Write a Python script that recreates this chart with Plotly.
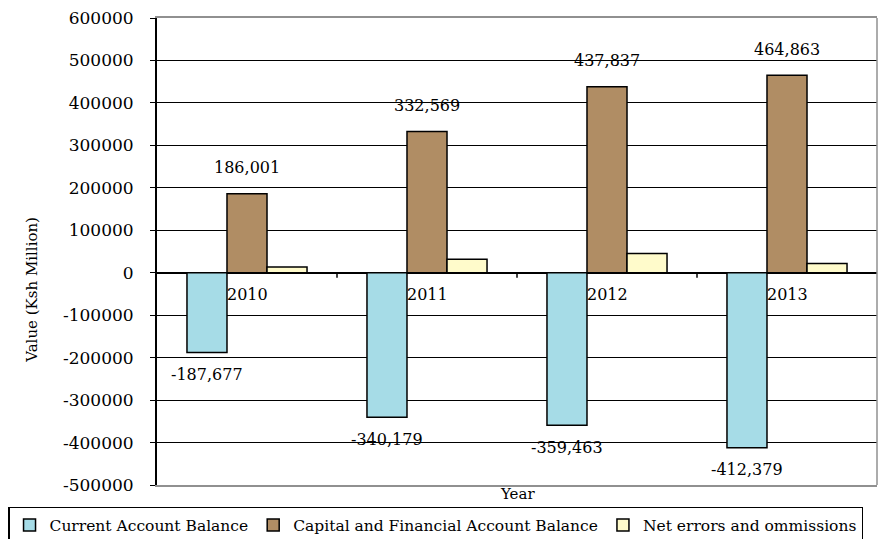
import plotly.graph_objects as go

years = ["2010", "2011", "2012", "2013"]
current_account = [-187677, -340179, -359463, -412379]
capital_financial = [186001, 332569, 437837, 464863]
net_errors = [13400, 32000, 45500, 22000]
series_names = ["Current Account Balance", "Capital and Financial Account Balance", "Net errors and ommissions"]
y_ticks = [600000, 500000, 400000, 300000, 200000, 100000, 0, -100000, -200000, -300000, -400000, -500000]

FONT = "DejaVu Serif"
colors = ["#A6DCE7", "#B08D64", "#FFFBCB"]

fig = go.Figure()
for name, vals, col in zip(series_names, [current_account, capital_financial, net_errors], colors):
    fig.add_trace(go.Bar(
        x=years, y=vals, name=name,
        marker=dict(color=col, line=dict(color="black", width=1.5)),
    ))

annotations = []
# year labels at the zero line (category index positions)
for i, y in enumerate(years):
    annotations.append(dict(x=i, y=0, xref="x", yref="y", text=y, showarrow=False,
                            yshift=-22, font=dict(family=FONT, size=16, color="black")))
# data labels
for i, v in enumerate(capital_financial):
    annotations.append(dict(x=i, y=v, xref="x", yref="y", text=f"{v:,}", showarrow=False,
                            yshift=26, font=dict(family=FONT, size=16, color="black")))
for i, v in enumerate(current_account):
    annotations.append(dict(x=i, y=v, xref="x", yref="y", text=f"-{abs(v):,}", showarrow=False,
                            xshift=-40, yshift=-22, font=dict(family=FONT, size=16, color="black")))
# axis titles
annotations.append(dict(x=0.5, y=0, xref="paper", yref="paper", text="Year", showarrow=False,
                        xanchor="center", yanchor="top", yshift=2,
                        font=dict(family=FONT, size=15, color="black")))
annotations.append(dict(x=-0.1736, y=0.418, xref="paper", yref="paper", text="Value (Ksh Million)",
                        xanchor="center", yanchor="middle",
                        textangle=-90, showarrow=False, font=dict(family=FONT, size=15, color="black")))

shapes = []
# category boundary ticks on the zero line
for i in range(len(years) - 1):
    shapes.append(dict(type="line", xref="x", yref="y", x0=i + 0.5, x1=i + 0.5, y0=0, y1=-12000,
                       line=dict(color="black", width=1.5)))
# right border
shapes.append(dict(type="line", xref="paper", yref="paper", x0=1, x1=1, y0=0, y1=1,
                   line=dict(color="#909090", width=1.5)))

fig.update_layout(
    width=888, height=539,
    margin=dict(l=149, r=19, t=10, b=62, autoexpand=False),
    paper_bgcolor="white", plot_bgcolor="white",
    barmode="group", bargap=0.333, bargroupgap=0,
    font=dict(family=FONT, size=16, color="black"),
    showlegend=True,
    legend=dict(orientation="h", x=-0.2069, xanchor="left", y=-0.047, yanchor="top",
                bordercolor="black", borderwidth=1.5, font=dict(family=FONT, size=15.5, color="black"),
                itemwidth=30, tracegroupgap=0),
    annotations=annotations,
    shapes=shapes,
)
fig.update_xaxes(type="category", range=[-0.5, 3.5], showticklabels=False, showgrid=False, showline=True,
                 linecolor="#909090", linewidth=1.5, mirror=True, ticks="", zeroline=False, automargin=False)
fig.update_yaxes(range=[-500000, 600000], tickvals=y_ticks, ticktext=[str(v) for v in y_ticks],
                 showgrid=True, gridcolor="black", gridwidth=1.2, automargin=False,
                 showline=True, linecolor="black", linewidth=2, ticks="outside", ticklen=5,
                 tickcolor="black", ticklabelstandoff=13, ticklabeloverflow="allow",
                 zeroline=True, zerolinecolor="black", zerolinewidth=2,
                 tickfont=dict(family=FONT, size=17, color="black"))

fig.write_html("out.html")
